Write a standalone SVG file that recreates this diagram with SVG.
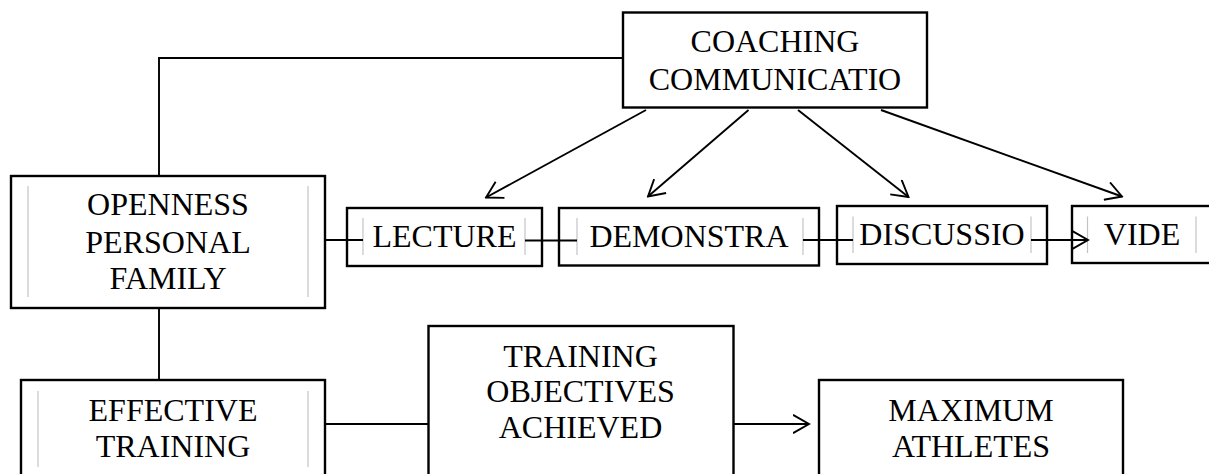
<svg xmlns="http://www.w3.org/2000/svg" width="1209" height="474" viewBox="0 0 1209 474">
<style>
.box{fill:#fff;stroke:#000;stroke-width:2.4}
.in{stroke:#c4c4c4;stroke-width:1.2;fill:none}
.ln{stroke:#000;stroke-width:1.9;fill:none}
text{font-family:'Liberation Serif','Times New Roman',Times,serif;font-size:32px;fill:#000;text-anchor:middle}
</style>
<defs>
<marker id="ah" viewBox="0 0 18 20" refX="16.5" refY="10" markerWidth="18" markerHeight="20" markerUnits="userSpaceOnUse" orient="auto">
<path d="M0.5,0.8 L16.5,10 L0.5,19.2" fill="none" stroke="#000" stroke-width="1.9"/>
</marker>
</defs>
<rect width="1209" height="474" fill="#fff"/>
<g id="coaching">
<rect class="box" x="623" y="12.5" width="304" height="95"/>
<text x="775" y="51.7">COACHING</text>
<text x="775" y="90">COMMUNICATIO</text>
</g>
<g id="openness">
<rect class="box" x="11" y="176" width="314" height="132"/>
<line class="in" x1="28" y1="186" x2="28" y2="297"/>
<line class="in" x1="308" y1="186" x2="308" y2="297"/>
<text x="168" y="215">OPENNESS</text>
<text x="168" y="252.5">PERSONAL</text>
<text x="168" y="289">FAMILY</text>
</g>
<g id="lecture">
<rect class="box" x="347" y="208" width="195" height="58"/>
<line class="in" x1="363" y1="218" x2="363" y2="255"/>
<line class="in" x1="525" y1="218" x2="525" y2="255"/>
<text x="444.5" y="247">LECTURE</text>
</g>
<g id="demonstra">
<rect class="box" x="559" y="208" width="260" height="57.5"/>
<line class="in" x1="577" y1="218" x2="577" y2="255"/>
<line class="in" x1="803" y1="218" x2="803" y2="255"/>
<text x="689" y="247">DEMONSTRA</text>
</g>
<g id="discussio">
<rect class="box" x="837" y="206" width="210" height="58"/>
<line class="in" x1="853" y1="216.5" x2="853" y2="253"/>
<line class="in" x1="1031" y1="216.5" x2="1031" y2="253"/>
<text x="942" y="245">DISCUSSIO</text>
</g>
<g id="vide">
<rect class="box" x="1072" y="206" width="140" height="57"/>
<line class="in" x1="1087.5" y1="216.5" x2="1087.5" y2="253"/>
<line class="in" x1="1196" y1="216.5" x2="1196" y2="253"/>
<text x="1142" y="245">VIDE</text>
</g>
<g id="effective">
<rect class="box" x="21" y="380" width="304" height="110"/>
<line class="in" x1="38" y1="391" x2="38" y2="467"/>
<line class="in" x1="308" y1="391" x2="308" y2="467"/>
<text x="173" y="420.7">EFFECTIVE</text>
<text x="173" y="457">TRAINING</text>
</g>
<g id="objectives">
<rect class="box" x="428.5" y="326" width="305" height="160"/>
<text x="580.5" y="366.7">TRAINING</text>
<text x="580.5" y="402">OBJECTIVES</text>
<text x="580.5" y="438.3">ACHIEVED</text>
</g>
<g id="maximum">
<rect class="box" x="819" y="380" width="304" height="110"/>
<text x="971" y="420.7">MAXIMUM</text>
<text x="971" y="456.7">ATHLETES</text>
</g>
<g id="connectors">
<path class="ln" d="M159,176 V58 H623"/>
<path class="ln" d="M159,308 V380"/>
<path class="ln" d="M325,240 H363"/>
<path class="ln" d="M525,240.5 H577"/>
<path class="ln" d="M803,240 H853"/>
<path class="ln" d="M1031,240 H1088" marker-end="url(#ah)"/>
<path class="ln" d="M646,110 L486,197.5" marker-end="url(#ah)"/>
<path class="ln" d="M748.5,110 L648,196.5" marker-end="url(#ah)"/>
<path class="ln" d="M798,110 L908.5,197" marker-end="url(#ah)"/>
<path class="ln" d="M881,110 L1122,196.5" marker-end="url(#ah)"/>
<path class="ln" d="M325,424 H428"/>
<path class="ln" d="M733,424 H809" marker-end="url(#ah)"/>
</g>
</svg>
